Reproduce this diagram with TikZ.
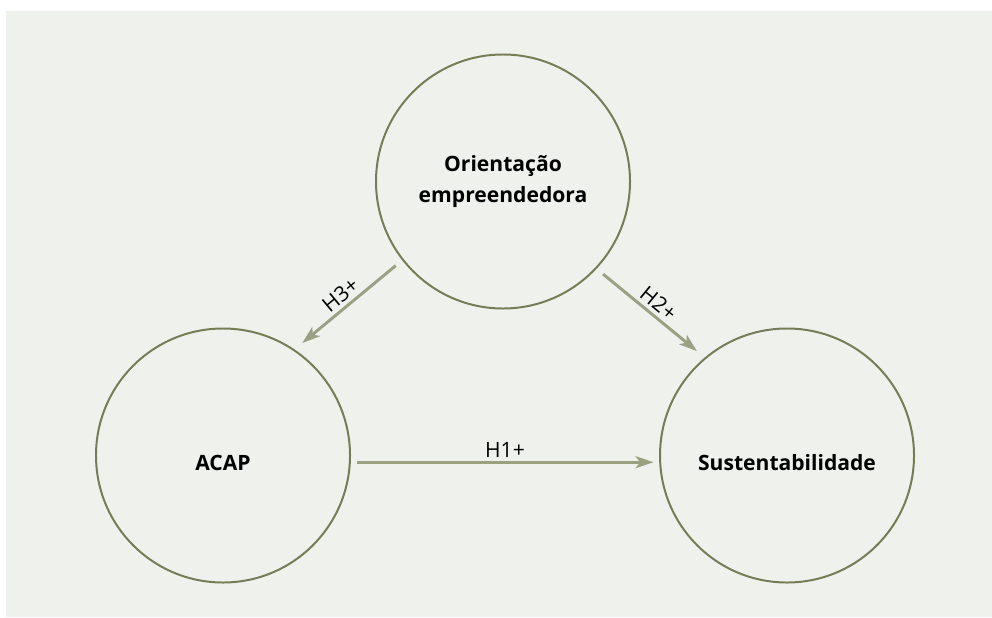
\documentclass[tikz,border=0pt]{standalone}
\usepackage{fontspec}
\setmainfont{Open Sans}
\usetikzlibrary{arrows.meta}
\definecolor{fundo}{HTML}{EFF1EC}
\definecolor{borda}{HTML}{767C55}
\definecolor{seta}{HTML}{9CA082}
\tikzset{
  construto/.style={circle,draw=borda,line width=1.7pt,minimum size=7.62cm,inner sep=0pt,align=center,font=\bfseries\fontsize{18}{26}\selectfont},
  baixo/.style={text height=0.87cm,text depth=0pt},
  hip/.style={draw=seta,line width=2.5pt,shorten <=0.25cm,shorten >=0.3cm,-{Stealth[length=5.4mm,width=3.6mm,inset=1.4mm]}},
  rotulo/.style={font=\fontsize{18}{22}\selectfont,inner sep=3pt}
}
\begin{document}
\begin{tikzpicture}[x=0.03cm,y=-0.03cm]
  \useasboundingbox (0,0) rectangle (992,617);
  \fill[fundo] (6,11) rectangle (992,617);
  % construtos
  \node[construto] (oe) at (503,181.5) {Orientação\\empreendedora};
  \node[construto,baixo] (acap) at (223,455.5) {ACAP};
  \node[construto,baixo] (sust) at (787,455.5) {Sustentabilidade};
  % hipoteses
  \draw[hip] (oe.218) -- (acap.56) node[rotulo,midway,sloped,above] {H3+};
  \draw[hip] (oe.317.5) -- (sust.130) node[rotulo,midway,sloped,above] {H2+};
  \draw[hip,shorten <=0.2cm,shorten >=0.17cm] (acap.-3) -- (sust.183) node[rotulo,midway,above] {H1+};
\end{tikzpicture}
\end{document}
